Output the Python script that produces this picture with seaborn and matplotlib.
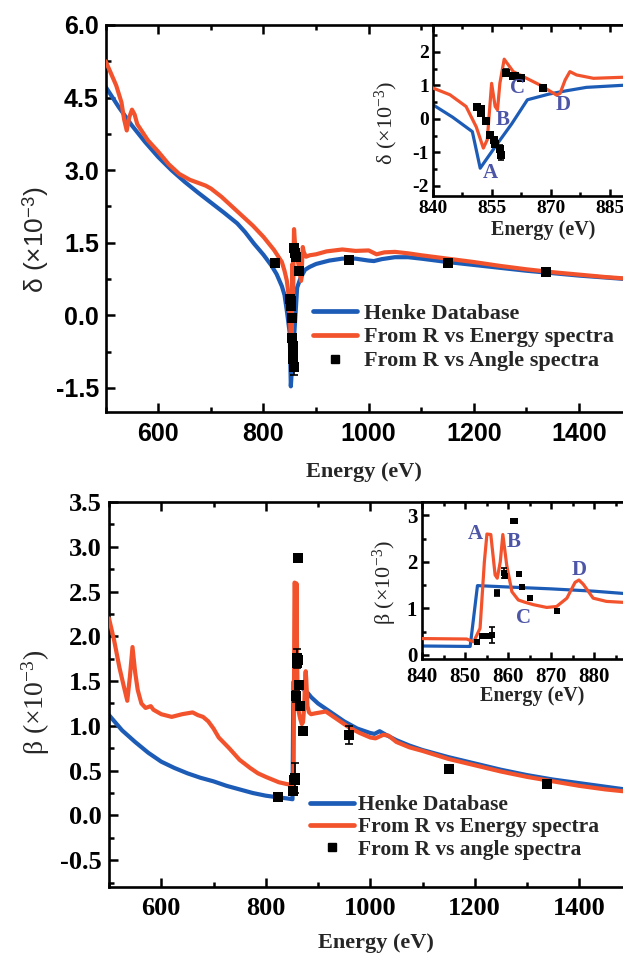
import matplotlib
matplotlib.use("Agg")
import matplotlib.pyplot as plt
from matplotlib.lines import Line2D
import seaborn as sns

# ---------------- delta (refractive decrement), x10^-3 ----------------
delta_henke_E = [500, 525, 550, 575, 600, 625, 650, 675, 700, 725, 750, 765, 782, 800, 815,
                 825, 835, 840, 845, 850, 852, 856, 860, 864, 869.5, 874, 879, 888, 900,
                 925, 950, 975, 1000, 1010, 1025, 1050, 1075, 1100, 1150, 1200, 1250,
                 1300, 1350, 1400, 1450, 1500]
delta_henke = [4.72, 4.30, 3.92, 3.58, 3.27, 3.00, 2.76, 2.54, 2.33, 2.12, 1.90, 1.72, 1.48, 1.25, 1.03,
               0.85, 0.60, 0.42, 0.05, -0.38, -1.47, -0.80, -0.15, 0.57, 0.74, 0.84, 0.94, 1.00, 1.06,
               1.13, 1.17, 1.17, 1.13, 1.12, 1.16, 1.20, 1.20, 1.17, 1.10, 1.04, 0.98,
               0.92, 0.87, 0.82, 0.78, 0.74]

delta_energy_E = [500, 510, 520, 530, 535, 540, 545, 550, 555, 560, 580, 600, 620, 640, 660,
                  680, 690, 700, 720, 740, 760, 780, 800, 820, 835, 840, 844.3, 848.4, 851,
                  852.8, 853.8, 854.9, 855.8, 856.4, 857, 858.1, 860.4, 863.8, 867.2, 871.4,
                  872.3, 873.6, 874.8, 876.5, 880.8, 888, 900, 920, 950, 975, 1000, 1015,
                  1030, 1050, 1075, 1100, 1150, 1200, 1250, 1300, 1350, 1400, 1450, 1500]
delta_energy = [5.25, 5.00, 4.75, 4.40, 4.05, 3.82, 4.10, 4.25, 4.15, 3.95, 3.62, 3.38, 3.12, 2.92, 2.80,
                2.72, 2.68, 2.62, 2.45, 2.25, 2.05, 1.85, 1.62, 1.35, 1.10, 0.92, 0.72, 0.37, -0.24,
                -0.87, -0.62, 1.06, 0.37, 0.27, 1.06, 1.78, 1.41, 1.21, 1.01, 0.71,
                0.76, 1.16, 1.41, 1.31, 1.21, 1.24, 1.26, 1.32, 1.36, 1.33, 1.34, 1.26,
                1.30, 1.31, 1.28, 1.24, 1.17, 1.10, 1.02, 0.95, 0.89, 0.84, 0.79, 0.75]

delta_angle_E = [822, 851.2, 852.3, 852.3, 853.4, 854.4, 855.5, 855.8, 857.0, 857.2, 858.5,
                 860.4, 860.8, 862.5, 868.0, 962, 1150, 1338]
delta_angle = [1.07, 0.34, 0.29, 0.19, -0.05, -0.47, -0.64, -0.74, -0.91, -1.07, 1.38,
               1.28, 1.28, 1.21, 0.92, 1.14, 1.08, 0.89]
delta_angle_err = [0.05, 0.03, 0.03, 0.03, 0.03, 0.03, 0.05, 0.05, 0.12, 0.17, 0.10,
                   0.05, 0.05, 0.05, 0.04, 0.04, 0.05, 0.05]

# ---------------- beta (absorption index), x10^-3 ----------------
beta_henke_E = [500, 525, 550, 575, 600, 625, 650, 675, 700, 725, 750, 775, 800, 825, 840,
                851.2, 852.9, 860, 870, 880, 887, 900, 925, 950, 975, 1000, 1008, 1018, 1030,
                1050, 1075, 1100, 1150, 1200, 1250, 1300, 1350, 1400, 1450, 1500]
beta_henke = [1.12, 0.95, 0.82, 0.70, 0.60, 0.53, 0.47, 0.42, 0.38, 0.33, 0.29, 0.25, 0.22, 0.20, 0.19,
              0.18, 1.49, 1.46, 1.42, 1.37, 1.32, 1.25, 1.15, 1.05, 0.97, 0.92, 0.91, 0.94, 0.90,
              0.84, 0.78, 0.73, 0.65, 0.58, 0.51, 0.45, 0.40, 0.36, 0.32, 0.28]

beta_energy_E = [500, 510, 520, 528, 535, 540, 545, 550, 555, 562, 570, 580, 585, 600, 620, 640,
                 660, 670, 680, 690, 700, 710, 730, 750, 770, 785, 800, 825, 840, 850.4, 852,
                 853.5, 854.5, 855.1, 856, 857, 857.5, 858.2, 858.8, 859.7, 860.9, 862.4, 864,
                 865.9, 869, 871.3, 873.7, 875.6, 876.5, 877.5, 879.8, 882.9, 886.7, 895, 905,
                 915, 925, 940, 960, 980, 1000, 1010, 1025, 1035, 1050, 1075, 1100, 1150, 1200,
                 1250, 1300, 1350, 1400, 1450, 1500]
beta_energy = [2.20, 1.95, 1.65, 1.45, 1.28, 1.55, 1.88, 1.60, 1.40, 1.25, 1.20, 1.22, 1.18, 1.13, 1.10, 1.13,
               1.15, 1.12, 1.10, 1.05, 0.97, 0.87, 0.75, 0.62, 0.53, 0.47, 0.43, 0.37, 0.35, 0.34, 0.28,
               0.57, 2.00, 2.60, 2.59, 1.72, 1.65, 2.00, 2.59, 1.93, 1.36, 1.18, 1.13,
               1.08, 1.02, 1.04, 1.22, 1.56, 1.61, 1.52, 1.22, 1.15, 1.13, 1.14, 1.15,
               1.16, 1.12, 1.06, 0.98, 0.92, 0.87, 0.86, 0.90, 0.89, 0.82, 0.76, 0.72, 0.63, 0.56,
               0.49, 0.43, 0.38, 0.33, 0.29, 0.26]

beta_angle_E = [823, 852.7, 853.9, 854.8, 855.5, 856.3, 857.5, 859.1, 859.4, 861.2, 861.7,
                862.5, 863.2, 865.0, 871.4, 960, 1150, 1339]
beta_angle = [0.21, 0.27, 0.40, 0.40, 0.40, 0.42, 1.33, 1.76, 1.70, 2.88, 2.88,
              1.74, 1.46, 1.22, 0.94, 0.90, 0.52, 0.35]
beta_angle_err = [0.02, 0.02, 0.02, 0.02, 0.02, 0.17, 0.06, 0.10, 0.05, 0.02, 0.02,
                  0.03, 0.03, 0.03, 0.02, 0.10, 0.03, 0.03]

# ---------------- axis ticks and labels ----------------
main_xticks = [600, 800, 1000, 1200, 1400]
main_xminor = [500, 700, 900, 1100, 1300, 1500]
delta_yticks = [-1.5, 0.0, 1.5, 3.0, 4.5, 6.0]
delta_ylabels = ["-1.5", "0.0", "1.5", "3.0", "4.5", "6.0"]
delta_yminor = [-0.75, 0.75, 2.25, 3.75, 5.25]
beta_yticks = [-0.5, 0.0, 0.5, 1.0, 1.5, 2.0, 2.5, 3.0, 3.5]
beta_ylabels = ["-0.5", "0.0", "0.5", "1.0", "1.5", "2.0", "2.5", "3.0", "3.5"]
beta_yminor = [-0.75, -0.25, 0.25, 0.75, 1.25, 1.75, 2.25, 2.75, 3.25]

delta_in_xticks = [840, 855, 870, 885]
delta_in_xminor = [847.5, 862.5, 877.5, 892.5]
delta_in_yticks = [-2, -1, 0, 1, 2]
delta_in_yminor = [-1.5, -0.5, 0.5, 1.5, 2.5]
beta_in_xticks = [840, 850, 860, 870, 880]
beta_in_xminor = [845, 855, 865, 875, 885]
beta_in_yticks = [0, 1, 2, 3]
beta_in_yminor = [0.5, 1.5, 2.5]

delta_in_letters = ["A", "B", "C", "D"]
delta_in_letter_E = [854.5, 857.8, 861.6, 873.0]
delta_in_letter_v = [-1.61, -0.03, 0.93, 0.42]
beta_in_letters = ["A", "B", "C", "D"]
beta_in_letter_E = [852.3, 861.4, 863.5, 876.5]
beta_in_letter_v = [2.60, 2.43, 0.80, 1.83]

legend_labels_delta = ["Henke Database", "From R vs Energy spectra", "From R vs Angle spectra"]
legend_labels_beta = ["Henke Database", "From R vs Energy spectra", "From R vs angle spectra"]

BLUE = "#1d5cb6"
RED = "#f2532c"
LETTER = "#4d55a6"
SANS = "Liberation Sans"
SERIF = "Liberation Serif"

sns.set_theme(style="ticks")
plt.rcParams.update({
    "font.family": [SERIF, "DejaVu Sans"],
    "axes.unicode_minus": False,
    "mathtext.fontset": "custom",
    "mathtext.rm": SERIF,
    "mathtext.sf": SANS,
    "mathtext.default": "rm",
    "axes.linewidth": 1.9,
    "axes.edgecolor": "black",
    "figure.facecolor": "white",
    "axes.facecolor": "white",
})

W, H = 623.0, 956.0


def fig_rect(left, top, right, bottom):
    return [left / W, 1 - bottom / H, (right - left) / W, (bottom - top) / H]


fig = plt.figure(figsize=(W / 100, H / 100), dpi=100)

ax_d = fig.add_axes(fig_rect(105.7, 25, 631.6, 412))
ax_b = fig.add_axes(fig_rect(109, 502, 631.5, 887))
ax_di = fig.add_axes(fig_rect(433, 25, 669, 196), zorder=5)
ax_bi = fig.add_axes(fig_rect(422, 502, 637, 659), zorder=5)


def style(ax, xt, xl, xm, yt, yl, ym, family, size, major, minor, pad_x, pad_y):
    ax.set_xticks(xt)
    ax.set_xticklabels(xl, fontfamily=family, fontweight="bold", fontsize=size)
    ax.set_xticks(xm, minor=True)
    ax.set_yticks(yt)
    ax.set_yticklabels(yl, fontfamily=family, fontweight="bold", fontsize=size)
    ax.set_yticks(ym, minor=True)
    ax.tick_params(which="both", direction="in", top=True, right=True,
                   width=1.8, color="black", labelcolor="black")
    ax.tick_params(which="major", length=major)
    ax.tick_params(which="minor", length=minor)
    ax.tick_params(axis="x", which="major", pad=pad_x)
    ax.tick_params(axis="y", which="major", pad=pad_y)
    for s in ax.spines.values():
        s.set_linewidth(1.9)
        s.set_color("black")
    ax.grid(False)


def draw_panel(ax, hE, hv, eE, ev, aE, av, aerr, lw, ms, cap):
    sns.lineplot(x=hE, y=hv, ax=ax, color=BLUE, linewidth=lw, sort=False,
                 estimator=None, zorder=2)
    sns.lineplot(x=eE, y=ev, ax=ax, color=RED, linewidth=lw, sort=False,
                 estimator=None, zorder=3)
    ax.errorbar(aE, av, yerr=aerr, fmt="none", ecolor="black", elinewidth=1.2,
                capsize=cap, capthick=1.2, zorder=4)
    sns.scatterplot(x=aE, y=av, ax=ax, marker="s", s=ms, color="black",
                    edgecolor="black", linewidth=0, zorder=5)


# ---- delta main ----
draw_panel(ax_d, delta_henke_E, delta_henke, delta_energy_E, delta_energy,
           delta_angle_E, delta_angle, delta_angle_err, 3.0, 52, 3)
ax_d.set_xlim(500, 1500)
ax_d.set_ylim(-2.0, 6.0)
style(ax_d, main_xticks, [str(t) for t in main_xticks], main_xminor,
      delta_yticks, delta_ylabels, delta_yminor, SANS, 18, 6.5, 3.6, 7, 5)
ax_d.set_xlabel("Energy (eV)", fontfamily=SERIF, fontweight="bold", fontsize=16)
ax_d.xaxis.set_label_coords(364 / W, 1 - 472 / H, transform=fig.transFigure)
ax_d.xaxis.label.set_va("center")
ax_d.set_ylabel(r"δ (×10$^{\mathsf{-3}}$)", fontfamily=SANS, fontsize=19)
ax_d.yaxis.set_label_coords(36 / W, 1 - 240 / H, transform=fig.transFigure)
ax_d.yaxis.label.set_va("center")

# ---- beta main ----
draw_panel(ax_b, beta_henke_E, beta_henke, beta_energy_E, beta_energy,
           beta_angle_E, beta_angle, beta_angle_err, 3.0, 52, 3)
ax_b.set_xlim(500, 1500)
ax_b.set_ylim(-0.8, 3.5)
style(ax_b, main_xticks, [str(t) for t in main_xticks], main_xminor,
      beta_yticks, beta_ylabels, beta_yminor, SERIF, 19, 6.5, 3.6, 7, 5)
ax_b.set_xlabel("Energy (eV)", fontfamily=SERIF, fontweight="bold", fontsize=16)
ax_b.xaxis.set_label_coords(376 / W, 1 - 943 / H, transform=fig.transFigure)
ax_b.xaxis.label.set_va("center")
ax_b.set_ylabel(r"β (×10$^{-3}$)", fontfamily=SERIF, fontsize=20)
ax_b.yaxis.set_label_coords(36 / W, 1 - 702 / H, transform=fig.transFigure)
ax_b.yaxis.label.set_va("center")

# ---- legends ----
def legend_handles(ms):
    return [Line2D([], [], color=BLUE, lw=3.4),
            Line2D([], [], color=RED, lw=3.4),
            Line2D([], [], color="black", marker="s", ms=ms, ls="none")]


ax_d.legend(legend_handles(5.5), legend_labels_delta, loc="upper left",
            bbox_to_anchor=(313 / W, 1 - 303 / H), bbox_transform=fig.transFigure,
            frameon=False, borderpad=0, borderaxespad=0, handlelength=2.0,
            handletextpad=0.3, labelspacing=0.15,
            prop={"family": SERIF, "weight": "bold", "size": 16})
ax_b.legend(legend_handles(5.5), legend_labels_beta, loc="upper left",
            bbox_to_anchor=(310 / W, 1 - 795 / H), bbox_transform=fig.transFigure,
            frameon=False, borderpad=0, borderaxespad=0, handlelength=2.05,
            handletextpad=0.2, labelspacing=0.1,
            prop={"family": SERIF, "weight": "bold", "size": 15.5})

# ---- delta inset ----
draw_panel(ax_di, delta_henke_E, delta_henke, delta_energy_E, delta_energy,
           delta_angle_E, delta_angle, delta_angle_err, 2.3, 26, 2)
ax_di.set_xlim(840, 900)
ax_di.set_ylim(-2.3, 2.8)
style(ax_di, delta_in_xticks, [str(t) for t in delta_in_xticks], delta_in_xminor,
      delta_in_yticks, [str(t) for t in delta_in_yticks], delta_in_yminor,
      SERIF, 14, 5, 3, 3, 3)
ax_di.set_xlabel("Energy (eV)", fontfamily=SERIF, fontweight="bold", fontsize=14.5)
ax_di.xaxis.set_label_coords(543 / W, 1 - 230 / H, transform=fig.transFigure)
ax_di.xaxis.label.set_va("center")
ax_di.set_ylabel(r"δ (×10$^{-3}$)", fontfamily=SERIF, fontsize=16)
ax_di.yaxis.set_label_coords(386 / W, 1 - 123 / H, transform=fig.transFigure)
ax_di.yaxis.label.set_va("center")
for t, e, v in zip(delta_in_letters, delta_in_letter_E, delta_in_letter_v):
    ax_di.text(e, v, t, color=LETTER, fontfamily=SERIF, fontweight="bold",
               fontsize=15, ha="center", va="center", zorder=6)

# ---- beta inset ----
draw_panel(ax_bi, beta_henke_E, beta_henke, beta_energy_E, beta_energy,
           beta_angle_E, beta_angle, beta_angle_err, 2.3, 20, 2)
ax_bi.set_xlim(840, 890)
ax_bi.set_ylim(-0.09, 3.29)
style(ax_bi, beta_in_xticks, [str(t) for t in beta_in_xticks], beta_in_xminor,
      beta_in_yticks, [str(t) for t in beta_in_yticks], beta_in_yminor,
      SERIF, 15, 5, 3, 5.5, 3.5)
ax_bi.set_xlabel("Energy (eV)", fontfamily=SERIF, fontweight="bold", fontsize=14.5)
ax_bi.xaxis.set_label_coords(532 / W, 1 - 696 / H, transform=fig.transFigure)
ax_bi.xaxis.label.set_va("center")
ax_bi.set_ylabel(r"β (×10$^{-3}$)", fontfamily=SERIF, fontsize=16)
ax_bi.yaxis.set_label_coords(385 / W, 1 - 583 / H, transform=fig.transFigure)
ax_bi.yaxis.label.set_va("center")
for t, e, v in zip(beta_in_letters, beta_in_letter_E, beta_in_letter_v):
    ax_bi.text(e, v, t, color=LETTER, fontfamily=SERIF, fontweight="bold",
               fontsize=15, ha="center", va="center", zorder=6)

fig.savefig("out.png", dpi=100)
